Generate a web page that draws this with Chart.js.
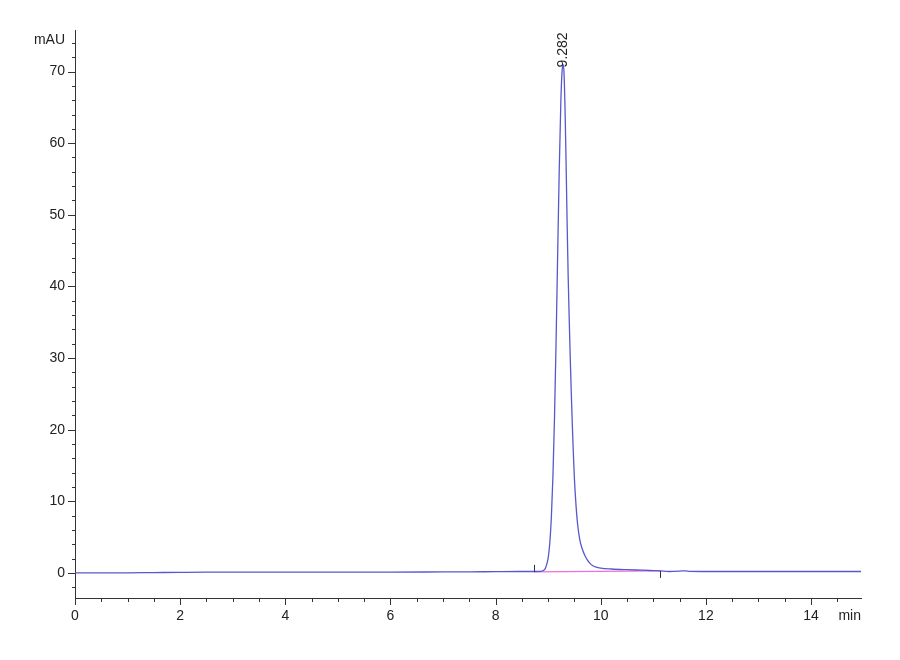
<!DOCTYPE html>
<html>
<head>
<meta charset="utf-8">
<script src="https://cdn.jsdelivr.net/npm/chart.js@4/dist/chart.umd.min.js"></script>
<style>
html,body{margin:0;padding:0;background:#fff;}
#wrap{width:900px;height:660px;}
</style>
</head>
<body>
<div id="wrap"><canvas id="c" width="900" height="660"></canvas></div>
<script>
// ---- data ----
const times = [0, 0.5, 1.0, 1.5, 2.0, 2.5, 3.0, 4.0, 5.0, 6.0, 7.0, 7.5, 8.0, 8.5, 8.73, 8.85,
  8.90, 8.95, 9.00, 9.03, 9.06, 9.09, 9.12, 9.15, 9.18, 9.21, 9.24, 9.26, 9.282,
  9.30, 9.32, 9.34, 9.36, 9.38, 9.40, 9.42, 9.44, 9.46, 9.48, 9.50, 9.53, 9.56, 9.60,
  9.65, 9.70, 9.75, 9.80, 9.85, 9.90, 10.0, 10.2, 10.5, 10.8, 11.0, 11.13, 11.3, 11.5,
  11.6, 11.7, 12.0, 13.0, 14.0, 14.95];
const signal = [0.0, 0.0, 0.02, 0.05, 0.08, 0.1, 0.1, 0.1, 0.12, 0.12, 0.14, 0.15, 0.18, 0.2, 0.2, 0.22,
  0.3, 0.7, 2.1, 4.1, 7.7, 13.4, 21.6, 32.2, 44.3, 56.1, 65.5, 69.5, 71.0,
  70.0, 65.0, 57.5, 49.0, 41.5, 35.5, 30.0, 25.0, 20.5, 16.5, 13.0, 9.4, 6.8, 4.7,
  3.3, 2.4, 1.75, 1.3, 1.0, 0.85, 0.68, 0.55, 0.45, 0.38, 0.32, 0.28, 0.2, 0.25,
  0.3, 0.22, 0.2, 0.2, 0.2, 0.2];
const baselineTimes = [8.73, 11.13];
const baselineValues = [0.15, 0.28];
const markerTimes = [8.73, 11.13];
const markerValues = [0.15, 0.28];
const markerDir = [1, -1];
const peakTime = 9.282;
const peakHeight = 71.0;
const peakLabel = "9.282";
const xMajorTicks = [0, 2, 4, 6, 8, 10, 12, 14];
const yMajorTicks = [0, 10, 20, 30, 40, 50, 60, 70];
const yUnit = "mAU";
const xUnit = "min";

const FONT = '"Liberation Sans Narrow", "Liberation Sans", Arial, sans-serif';
const TXT = '#222';

const tickPlugin = {
  id: 'tickPlugin',
  afterDraw(chart) {
    const ctx = chart.ctx;
    const xs = chart.scales.x, ys = chart.scales.y;
    const area = chart.chartArea;
    ctx.save();
    ctx.strokeStyle = '#333';
    ctx.lineWidth = 1;
    ys.ticks.forEach(t => {
      const p = Math.round(ys.getPixelForValue(t.value)) + 0.5;
      const major = yMajorTicks.includes(t.value);
      ctx.beginPath();
      ctx.moveTo(area.left - (major ? 7 : 3), p);
      ctx.lineTo(area.left, p);
      ctx.stroke();
    });
    xs.ticks.forEach(t => {
      const p = Math.round(xs.getPixelForValue(t.value)) + 0.5;
      const major = xMajorTicks.includes(t.value);
      ctx.beginPath();
      ctx.moveTo(p, area.bottom);
      ctx.lineTo(p, area.bottom + (major ? 7 : 4));
      ctx.stroke();
    });
    markerTimes.forEach((mt, i) => {
      const px = Math.round(xs.getPixelForValue(mt)) + 0.5;
      const py = ys.getPixelForValue(markerValues[i]);
      ctx.beginPath();
      ctx.moveTo(px, py);
      ctx.lineTo(px, py - markerDir[i] * 7);
      ctx.stroke();
    });
    ctx.fillStyle = TXT;
    ctx.font = '14px ' + FONT;
    ctx.textAlign = 'right';
    ctx.textBaseline = 'middle';
    ctx.fillText(yUnit, area.left - 10, area.top + 10);
    ctx.textBaseline = 'top';
    ctx.fillText(xUnit, area.right, area.bottom + 11);
    const lx = xs.getPixelForValue(peakTime);
    const ly = ys.getPixelForValue(peakHeight) + 3;
    ctx.translate(lx, ly);
    ctx.rotate(-Math.PI / 2);
    ctx.textAlign = 'left';
    ctx.textBaseline = 'middle';
    ctx.fillText(peakLabel, 0, 0);
    ctx.restore();
  }
};

const ctx = document.getElementById('c').getContext('2d');
new Chart(ctx, {
  type: 'line',
  data: {
    datasets: [
      {
        data: times.map((t, i) => ({x: t, y: signal[i]})),
        borderColor: 'rgb(88,88,205)',
        borderWidth: 1.3,
        pointRadius: 0,
        fill: false,
        cubicInterpolationMode: 'monotone'
      },
      {
        data: baselineTimes.map((t, i) => ({x: t, y: baselineValues[i]})),
        borderColor: 'rgb(238,110,228)',
        borderWidth: 1.2,
        pointRadius: 0,
        fill: false
      }
    ]
  },
  options: {
    responsive: false,
    animation: false,
    devicePixelRatio: 1,
    layout: {padding: {top: 30, right: 39, left: 0, bottom: 0}},
    plugins: {legend: {display: false}, tooltip: {enabled: false}},
    scales: {
      x: {
        type: 'linear',
        min: 0, max: 14.95,
        afterFit: s => { s.height = 62; },
        border: {display: true, color: '#333', width: 1},
        grid: {display: true, drawOnChartArea: false, drawTicks: false},
        ticks: {
          stepSize: 0.5, includeBounds: false, autoSkip: false, maxRotation: 0,
          padding: 10, color: TXT, font: {family: FONT, size: 14},
          callback: v => xMajorTicks.includes(v) ? String(v) : ''
        }
      },
      y: {
        type: 'linear',
        min: -3.5, max: 75.8,
        afterFit: s => { s.width = 75; },
        border: {display: true, color: '#333', width: 1},
        grid: {display: true, drawOnChartArea: false, drawTicks: false},
        ticks: {
          stepSize: 2, includeBounds: false, autoSkip: false,
          padding: 10, color: TXT, font: {family: FONT, size: 14},
          callback: v => yMajorTicks.includes(v) ? String(v) : ''
        }
      }
    }
  },
  plugins: [tickPlugin]
});
</script>
</body>
</html>
